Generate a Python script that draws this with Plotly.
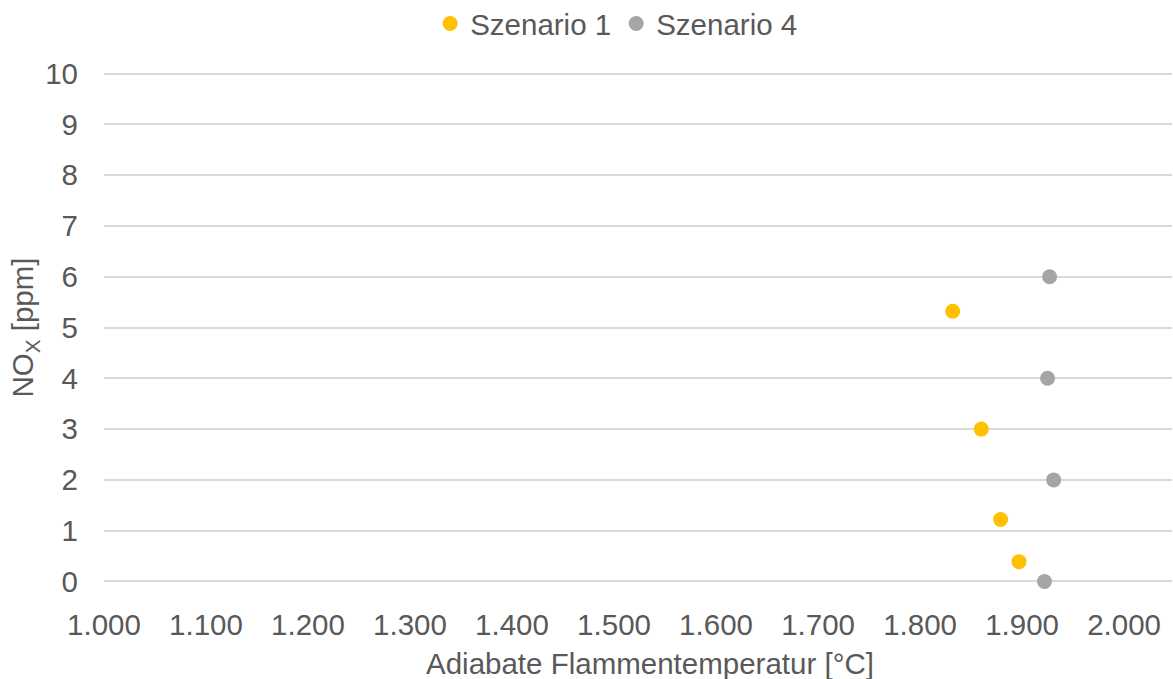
import plotly.graph_objects as go

# Szenario 1: adiabatic flame temperature [°C] vs. NOx [ppm]
temp_s1 = [1832, 1860, 1879, 1897]
nox_s1 = [5.32, 3.0, 1.22, 0.39]

# Szenario 4
temp_s4 = [1927, 1925, 1931, 1922]
nox_s4 = [6.0, 4.0, 2.0, 0.0]

x_ticks = [1000, 1100, 1200, 1300, 1400, 1500, 1600, 1700, 1800, 1900, 2000]
y_ticks = list(range(0, 11))

FONT = "Liberation Sans, Arial, sans-serif"
TEXT = "#595959"
GRID = "#D9D9D9"
FS = 29.5

fig = go.Figure()
fig.add_trace(go.Scatter(
    x=temp_s1, y=nox_s1, mode="markers", name="Szenario 1", cliponaxis=False,
    marker=dict(color="#FFC000", size=15, line=dict(width=0)),
))
fig.add_trace(go.Scatter(
    x=temp_s4, y=nox_s4, mode="markers", name="Szenario 4", cliponaxis=False,
    marker=dict(color="#A5A5A5", size=15, line=dict(width=0)),
))

fig.update_layout(
    width=1173, height=679,
    margin=dict(l=104, r=1, t=71.5, b=95.5),
    paper_bgcolor="white", plot_bgcolor="white",
    separators=",.",
    font=dict(family=FONT, size=FS, color=TEXT),
    showlegend=True,
    legend=dict(
        orientation="h", x=0.48, xanchor="center", y=0.965, yanchor="middle",
        yref="container", font=dict(size=FS, color=TEXT),
        itemsizing="trace", itemwidth=30, tracegroupgap=0,
        bgcolor="rgba(0,0,0,0)",
    ),
    xaxis=dict(
        range=[1000, 2047], tickmode="array", tickvals=x_ticks,
        tickformat=",d", showgrid=False, zeroline=False, showline=False,
        ticks="", ticklabelstandoff=21,
        tickfont=dict(size=FS, color=TEXT),
        automargin=False,
    ),
    yaxis=dict(
        range=[-0.03, 10.03], tickmode="array", tickvals=y_ticks,
        showgrid=True, gridcolor=GRID, gridwidth=1.5,
        zeroline=False, showline=False, ticks="", ticklabelstandoff=25,
        tickfont=dict(size=FS, color=TEXT),
        automargin=False,
    ),
    annotations=[
        dict(text="Adiabate Flammentemperatur [°C]", xref="paper", yref="paper",
             x=0.511, y=-0.158, xanchor="center", yanchor="middle",
             showarrow=False, font=dict(size=FS, color=TEXT)),
        dict(text="NO<sub>X</sub> [ppm]", xref="paper", yref="paper",
             x=-0.074, y=0.5, xanchor="center", yanchor="middle", textangle=-90,
             showarrow=False, font=dict(size=FS, color=TEXT)),
    ],
)

fig.write_html("out.html")
